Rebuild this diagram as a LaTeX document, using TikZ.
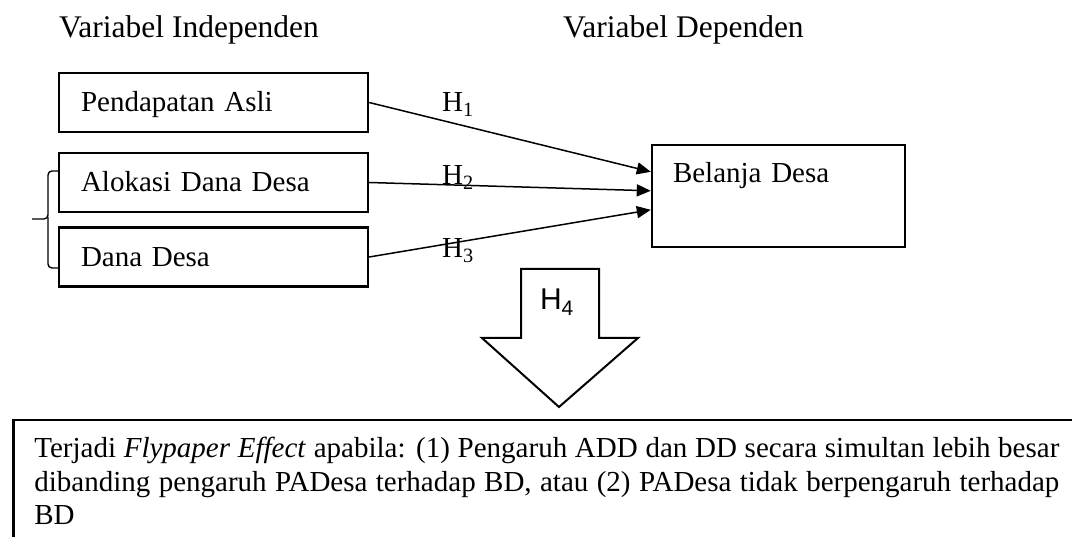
\documentclass[tikz,border=0pt]{standalone}
\usepackage{fontspec}
\setmainfont{Liberation Serif}
\newfontfamily\arialfont{Liberation Sans}
\usetikzlibrary{arrows.meta,calc}
\begin{document}
\begin{tikzpicture}[x=1pt,y=-1pt,
  headfont/.style={font=\fontsize{31.5}{36}\selectfont},
  bodyfont/.style={font=\fontsize{29}{34}\selectfont},
  varbox/.style={draw, line width=2.4pt, minimum width=309pt, minimum height=59pt,
    inner xsep=22pt, inner ysep=0pt, text width=265pt, align=left,
    text height=19pt, text depth=0pt, bodyfont},
  depbox/.style={draw, line width=2.4pt, minimum width=253pt, minimum height=102pt,
    inner xsep=21pt, inner ysep=19pt, text width=211pt, align=left,
    text height=19pt, text depth=45pt, bodyfont},
  conn/.style={line width=1.5pt, -{Triangle[length=14pt,width=12pt]}},
  hlabel/.style={anchor=base west, inner sep=0pt, bodyfont},
  fatarrow/.style={draw, line width=2pt, fill=white, line join=miter},
  bracestyle/.style={line width=1.4pt, rounded corners=4pt}
]
\clip (0,0) rectangle (1072,537);

% headings
\node[anchor=base west, inner sep=0pt, headfont] (hind) at (59,38) {Variabel Independen};
\node[anchor=base west, inner sep=0pt, headfont] (hdep) at (563,38) {Variabel Dependen};

% independent variable boxes
\node[varbox] (b1) at (213.5,102.5) {Pendapatan Asli};
\node[varbox] (b2) at (213.5,182.5) {Alokasi Dana Desa};
\node[varbox] (b3) at (213.5,257) {Dana Desa};

% dependent variable box
\node[depbox] (bd) at (778.5,196) {Belanja Desa};

% connectors
\draw[conn] (b1.east) -- ($(bd.north west)+(0,28)$);
\draw[conn] (b2.east) -- ($(bd.north west)+(0,47)$);
\draw[conn] (b3.east) -- ($(bd.north west)+(0,66)$);

% connector labels
\node[hlabel] (h1) at (442,112) {H\textsubscript{1}};
\node[hlabel] (h2) at (442,185) {H\textsubscript{2}};
\node[hlabel] (h3) at (442,258) {H\textsubscript{3}};

% brace grouping ADD and DD
\draw[bracestyle] (b2.west |- 0,171) -- (48,171) -- (48,219) -- (32,219);
\draw[bracestyle] (48,217) -- (48,268) -- (b3.west |- 0,268);

% H4 block arrow
\draw[fatarrow] (521,269) -- (599,269) -- (599,338) -- (638,338) -- (559,407)
  -- (482,338) -- (521,338) -- cycle;
\node[inner sep=0pt, font=\arialfont\fontsize{30}{34}\selectfont] (h4) at (557,302) {H\textsubscript{4}};

% conclusion box
\node[draw, line width=2.8pt, anchor=base west, inner xsep=21pt, inner ysep=17pt,
  text height=20pt, bodyfont] (desc) at (12,457)
  {\parbox[t]{1025pt}{\hyphenpenalty=10000\relax
   Terjadi \textit{Flypaper Effect} apabila: (1) Pengaruh ADD dan DD secara simultan lebih besar\linebreak
   dibanding pengaruh PADesa terhadap BD, atau (2) PADesa tidak berpengaruh terhadap\linebreak
   BD}};
\end{tikzpicture}
\end{document}
